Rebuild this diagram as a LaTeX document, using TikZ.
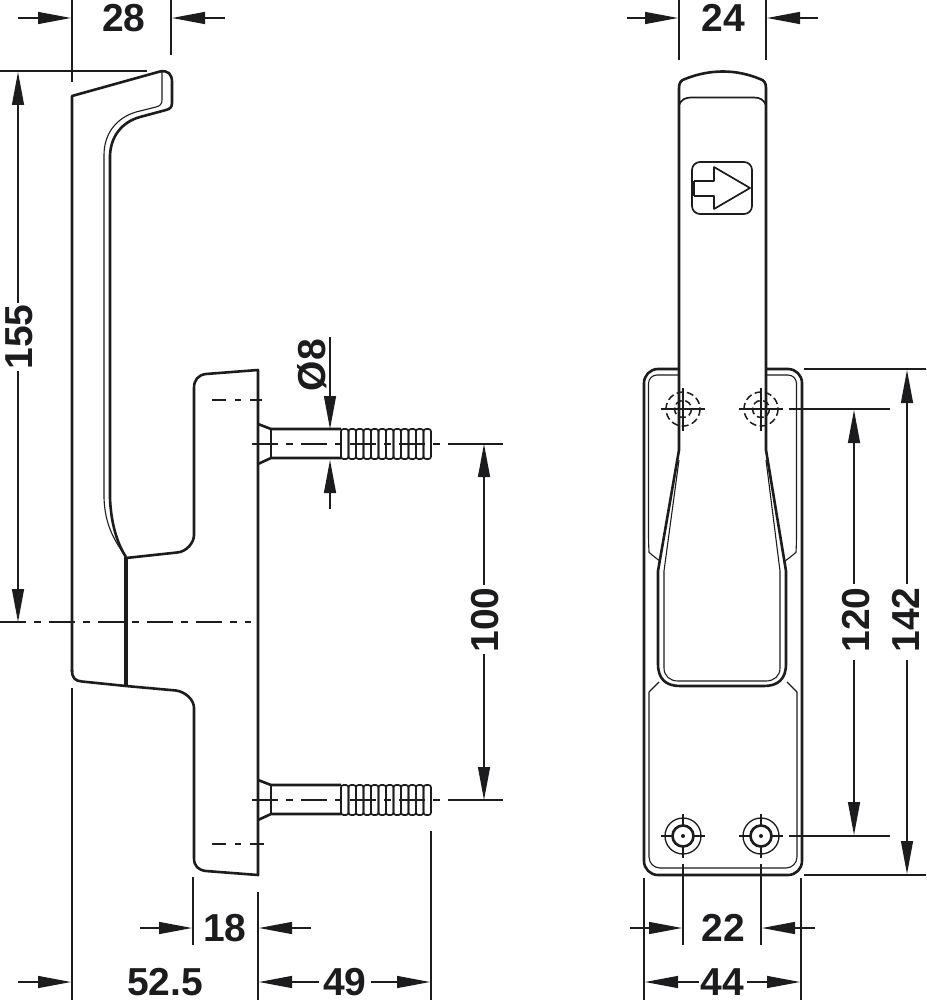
\documentclass[tikz,border=0pt]{standalone}
\usepackage{fontspec}
\setmainfont{Liberation Sans}
\usetikzlibrary{arrows.meta}
\definecolor{ink}{HTML}{1C1C1E}
\tikzset{
  x=1pt,y=-1pt,
  every path/.style={color=ink,line join=round},
  outline/.style={draw=ink,line width=2.6pt},
  heavy/.style={draw=ink,line width=4pt},
  mid/.style={draw=ink,line width=1.7pt},
  fine/.style={draw=ink,line width=1.1pt},
  ext/.style={draw=ink,line width=1.3pt},
  hole/.style={draw=ink,line width=1.5pt,dash pattern=on 7pt off 3.5pt},
  center/.style={draw=ink,line width=1.3pt,dash pattern=on 26pt off 8pt on 7pt off 8pt},
  hid/.style={draw=ink,line width=1.3pt,dash pattern=on 14pt off 9pt on 6pt off 9pt},
  dimarrow/.style={draw=ink,line width=1.3pt,-{Triangle[length=33pt,width=12pt,color=ink]}},
  lbl/.style={text=ink,font=\fontsize{39}{39}\selectfont\bfseries,inner sep=0pt},
  lblv/.style={lbl,rotate=90},
}
\begin{document}
\begin{tikzpicture}
\useasboundingbox (0,0) rectangle (926,1000);
%---- labels
\node[lbl] (d28) at (124,18) {28};
\node[lbl] (d24) at (723,18) {24};
\node[lblv] (d155) at (19,337) {155};
\node[lblv] (d8) at (312,365) {Ø8};
\node[lblv] (d100) at (485,620) {100};
\node[lblv] (d120) at (856,620) {120};
\node[lblv] (d142) at (906,620) {142};
\node[lbl] (d18) at (225,928) {18};
\node[lbl] (d525) at (165,982) {52.5};
\node[lbl] (d49) at (345,982) {49};
\node[lbl] (d22) at (723,928) {22};
\node[lbl] (d44) at (722,982) {44};
%---- left view: handle
\draw[outline] (72,672) -- (72,96) -- (160,71.5) .. controls (168,70) and (172,74) .. (172,82)
  -- (172,103) .. controls (172,107) and (170,109) .. (166,110)
  -- (140,117) .. controls (122,122) and (111,136) .. (110,155)
  -- (110,498) .. controls (111,525) and (118,545) .. (126,557);
\draw[fine] (162,72) -- (162,100) .. controls (162,104) and (160,106) .. (156,107)
  -- (136,112) .. controls (116,118) and (104,134) .. (104,155)
  -- (104,498) .. controls (105,525) and (114,540) .. (126,557);
\draw[outline] (72,670) .. controls (72,678) and (75,681) .. (82,681.5)
  -- (126,686) -- (176,690.5) .. controls (186,692) and (194,700) .. (194,708)
  -- (194,858) .. controls (194,866) and (198,870) .. (206,871) -- (258,875) -- (258,370)
  -- (206,374) .. controls (198,375) and (194,380) .. (194,388)
  -- (194,535) .. controls (194,543) and (186,552) .. (177,552.5) -- (126,558);
\draw[heavy] (126,557) -- (126,686);
%---- left view: screws
\foreach \cy in {444,800}{
  \draw[outline] (258,\cy-20) -- (271,\cy-15) -- (341,\cy-15);
  \draw[outline] (258,\cy+20) -- (271,\cy+14) -- (341,\cy+14);
  \draw[fine] (271,\cy-15) -- (271,\cy+14);
  \foreach \k in {0,...,11}{
    \draw[mid,rounded corners=2.5pt] (341+\k*7.5,\cy-15) rectangle (341+\k*7.5+7.5,\cy+15);
  }
  \draw[center] (252,\cy) -- (442,\cy);
}
\draw[hid] (212,400) -- (262,400);
\draw[hid] (212,844) -- (267,844);
\draw[center] (0,622) -- (251,622);
%---- left view: dimensions
\draw[ext] (72,0) -- (72,82);
\draw[ext] (171,0) -- (171,55);
\draw[ext] (0,71) -- (147,71);
\draw[ext] (448,444) -- (503,444);
\draw[ext] (448,800) -- (503,800);
\draw[ext] (72,688) -- (72,1000);
\draw[ext] (193,877) -- (193,945);
\draw[ext] (258,892) -- (258,1000);
\draw[ext] (431,831) -- (431,1000);
\coordinate (a28l) at (18,18); \coordinate (b28l) at (71,18);
\coordinate (a28r) at (225,18); \coordinate (b28r) at (172,18);
\draw[dimarrow] (a28l) -- (b28l);
\draw[dimarrow] (a28r) -- (b28r);
\coordinate (t155) at (18,72); \coordinate (b155) at (18,622);
\coordinate (s155t) at (18,303); \coordinate (s155b) at (18,371);
\draw[dimarrow] (s155t) -- (t155);
\draw[dimarrow] (s155b) -- (b155);
\coordinate (a8t) at (330,337); \coordinate (b8t) at (330,429);
\coordinate (a8b) at (330,509); \coordinate (b8b) at (330,460);
\draw[dimarrow] (a8t) -- (b8t);
\draw[dimarrow] (a8b) -- (b8b);
\coordinate (t100) at (484,444); \coordinate (b100) at (484,800);
\coordinate (s100t) at (484,585); \coordinate (s100b) at (484,654);
\draw[dimarrow] (s100t) -- (t100);
\draw[dimarrow] (s100b) -- (b100);
\coordinate (a18l) at (140,928); \coordinate (b18l) at (192,928);
\coordinate (a18r) at (311,928); \coordinate (b18r) at (259,928);
\draw[dimarrow] (a18l) -- (b18l);
\draw[dimarrow] (a18r) -- (b18r);
\coordinate (a52) at (18,982); \coordinate (b52) at (71,982);
\draw[dimarrow] (a52) -- (b52);
\coordinate (l49) at (259,982); \coordinate (r49) at (430,982);
\draw[dimarrow] (d49.west) ++(-4,0) -- (l49);
\draw[dimarrow] (d49.east) ++(4,0) -- (r49);
%---- right view: plate
\draw[outline,rounded corners=14pt] (679,369) -- (644,369) -- (644,875) -- (802,875) -- (802,369) -- (767,369);
\draw[fine] (679,375) [rounded corners=8.5pt] -- (648.5,375) -- (648.5,544) [sharp corners]
  .. controls (649,552) and (654,557) .. (660,561);
\draw[fine] (767,375) [rounded corners=8.5pt] -- (796.5,375) -- (796.5,544) [sharp corners]
  .. controls (796,552) and (791,557) .. (785,561);
\draw[fine,rounded corners=11pt] (649,692) -- (649,868) -- (797,868) -- (797,692);
\draw[fine] (659,682) -- (649,692);
\draw[fine] (787,682) -- (797,692);
%---- right view: handle
\draw[outline] (679,450) -- (679,88) .. controls (679,83) and (681,80) .. (685,79)
  .. controls (710,69) and (736,69) .. (760,79) .. controls (764,80) and (766,83) .. (766,88) -- (766,450);
\draw[mid] (679,105) .. controls (681,100) and (685,97.5) .. (691,97.5) -- (754,97.5)
  .. controls (760,97.5) and (764,100) .. (766,105);
\draw[outline] (679,450) -- (658,571) -- (658,664)
  .. controls (658,679) and (666,686) .. (680,686) -- (764,686)
  .. controls (778,686) and (786,679) .. (786,664) -- (786,571) -- (766,450);
\draw[fine] (679,460) -- (664,571) -- (664,668)
  .. controls (664,676) and (670,681) .. (678,681) -- (766,681)
  .. controls (774,681) and (780,676) .. (780,668) -- (780,571) -- (766,460);
%---- logo
\draw[mid,rounded corners=8pt] (692,162) rectangle (752,214);
\draw[mid] (694,181) -- (714,181) -- (714,167) -- (750,188) -- (714,209) -- (714,196) -- (694,196);
\draw[outline] (694,181) -- (694,196);
%---- right view: screw positions
\foreach \cx in {683,761}{
  \draw[hole] (\cx,409) circle[radius=17];
  \draw[hole] (\cx,409) circle[radius=8.5];
  \draw[ext] (\cx-22,409) -- (\cx+22,409);
  \draw[ext] (\cx,388) -- (\cx,431);
  \draw[fill=white,line width=1.3pt] (\cx,836) circle[radius=18];
  \draw[ext] (\cx-22,836) -- (\cx+22,836);
  \draw[ext] (\cx,814) -- (\cx,858);
  \draw[fill=white,line width=2.6pt] (\cx,836) circle[radius=10.5];
  \fill[ink] (\cx,836) circle[radius=2];
  \draw[ext] (\cx,864) -- (\cx,945);
}
%---- right view: dimensions
\draw[ext] (679,0) -- (679,60);
\draw[ext] (766,0) -- (766,60);
\draw[ext] (789,409) -- (890,409);
\draw[ext] (789,836) -- (890,836);
\draw[ext] (804,369) -- (926,369);
\draw[ext] (804,875) -- (926,875);
\draw[ext] (644,878) -- (644,1000);
\draw[ext] (801,878) -- (801,1000);
\coordinate (a24l) at (627,18); \coordinate (b24l) at (678,18);
\coordinate (a24r) at (818,18); \coordinate (b24r) at (767,18);
\draw[dimarrow] (a24l) -- (b24l);
\draw[dimarrow] (a24r) -- (b24r);
\coordinate (t120) at (854,410); \coordinate (b120) at (854,835);
\coordinate (s120t) at (854,584); \coordinate (s120b) at (854,660);
\draw[dimarrow] (s120t) -- (t120);
\draw[dimarrow] (s120b) -- (b120);
\coordinate (t142) at (907,370); \coordinate (b142) at (907,874);
\coordinate (s142t) at (907,584); \coordinate (s142b) at (907,660);
\draw[dimarrow] (s142t) -- (t142);
\draw[dimarrow] (s142b) -- (b142);
\coordinate (a22l) at (630,928); \coordinate (b22l) at (682,928);
\coordinate (a22r) at (815,928); \coordinate (b22r) at (762,928);
\draw[dimarrow] (a22l) -- (b22l);
\draw[dimarrow] (a22r) -- (b22r);
\coordinate (l44) at (645,982); \coordinate (r44) at (800,982);
\draw[dimarrow] (d44.west) ++(-1,0) -- (l44);
\draw[dimarrow] (d44.east) ++(3,0) -- (r44);
\end{tikzpicture}
\end{document}
